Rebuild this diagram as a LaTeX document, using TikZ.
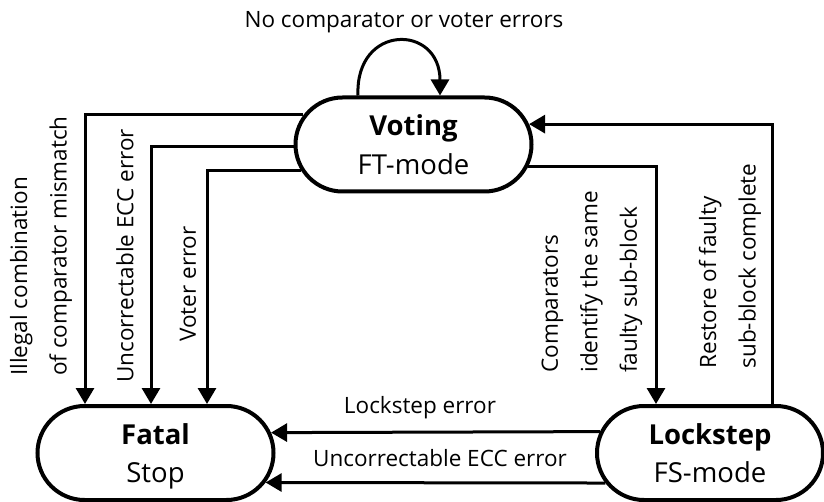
\documentclass[tikz,border=0pt]{standalone}
\usepackage{fontspec}
\setmainfont{Open Sans}
\usetikzlibrary{arrows.meta,shapes.misc}

\begin{document}
\begin{tikzpicture}[x=1pt,y=-1pt,
	modebox/.style={rounded rectangle, draw, line width=4pt, minimum height=94pt, minimum width=236pt, align=center, inner sep=0pt, font=\fontsize{27.5}{38.5}\selectfont},
	flow/.style={-{Triangle[length=16pt,width=18pt]}, line width=3pt},
	lbl/.style={font=\fontsize{22.5}{39.5}\selectfont, align=left, inner sep=0pt}]
	\useasboundingbox (0,0) rectangle (824,502);

	\node[modebox] (voting) at (413.5,144.5) {\textbf{Voting}\\FT-mode};
	\node[modebox] (fatal) at (155.5,453) {\textbf{Fatal}\\\smash{Stop}};
	\node[modebox, minimum width=226pt] (lockstep) at (710,453) {\textbf{Lockstep}\\FS-mode};

	% transition labels
	\node[lbl] (noerr) at (404,22) {No comparator or voter errors};
	\node[lbl, rotate=90] (illegal) at (41,246) {Illegal combination\\of comparator mismatch};
	\node[lbl, rotate=90] (eccvote) at (125,256) {Uncorrectable ECC error};
	\node[lbl, rotate=90] (votererr) at (188,284) {Voter error};
	\node[lbl, rotate=90] (compid) at (592,282) {Comparators\\identify the same\\faulty sub-block};
	\node[lbl, rotate=90] (restore) at (730,266) {Restore of faulty\\sub-block complete};
	\node[lbl] (lserr) at (420,408) {Lockstep error};
	\node[lbl] (eccls) at (440,458) {Uncorrectable ECC error};

	% transitions
	\draw[flow] ([xshift=-55.5pt]voting.north) .. controls +(-3,-72) and +(0,-72) .. ([xshift=26.5pt]voting.north);
	\draw[flow] (voting.165.6) -| ([xshift=-70.5pt]fatal.north);
	\draw[flow] (voting.181.2) -| ([xshift=-4.5pt]fatal.north);
	\draw[flow] (voting.193.8) -| ([xshift=51.5pt]fatal.north);
	\draw[flow] (voting.-11.6) -| ([xshift=-54pt]lockstep.north);
	\draw[flow] ([xshift=62pt]lockstep.north) |- (voting.10.6);
	\draw[flow] (lockstep.169.2) -- (fatal.10.3);
	\draw[flow] (lockstep.196) -- (fatal.-15.3);
\end{tikzpicture}
\end{document}
